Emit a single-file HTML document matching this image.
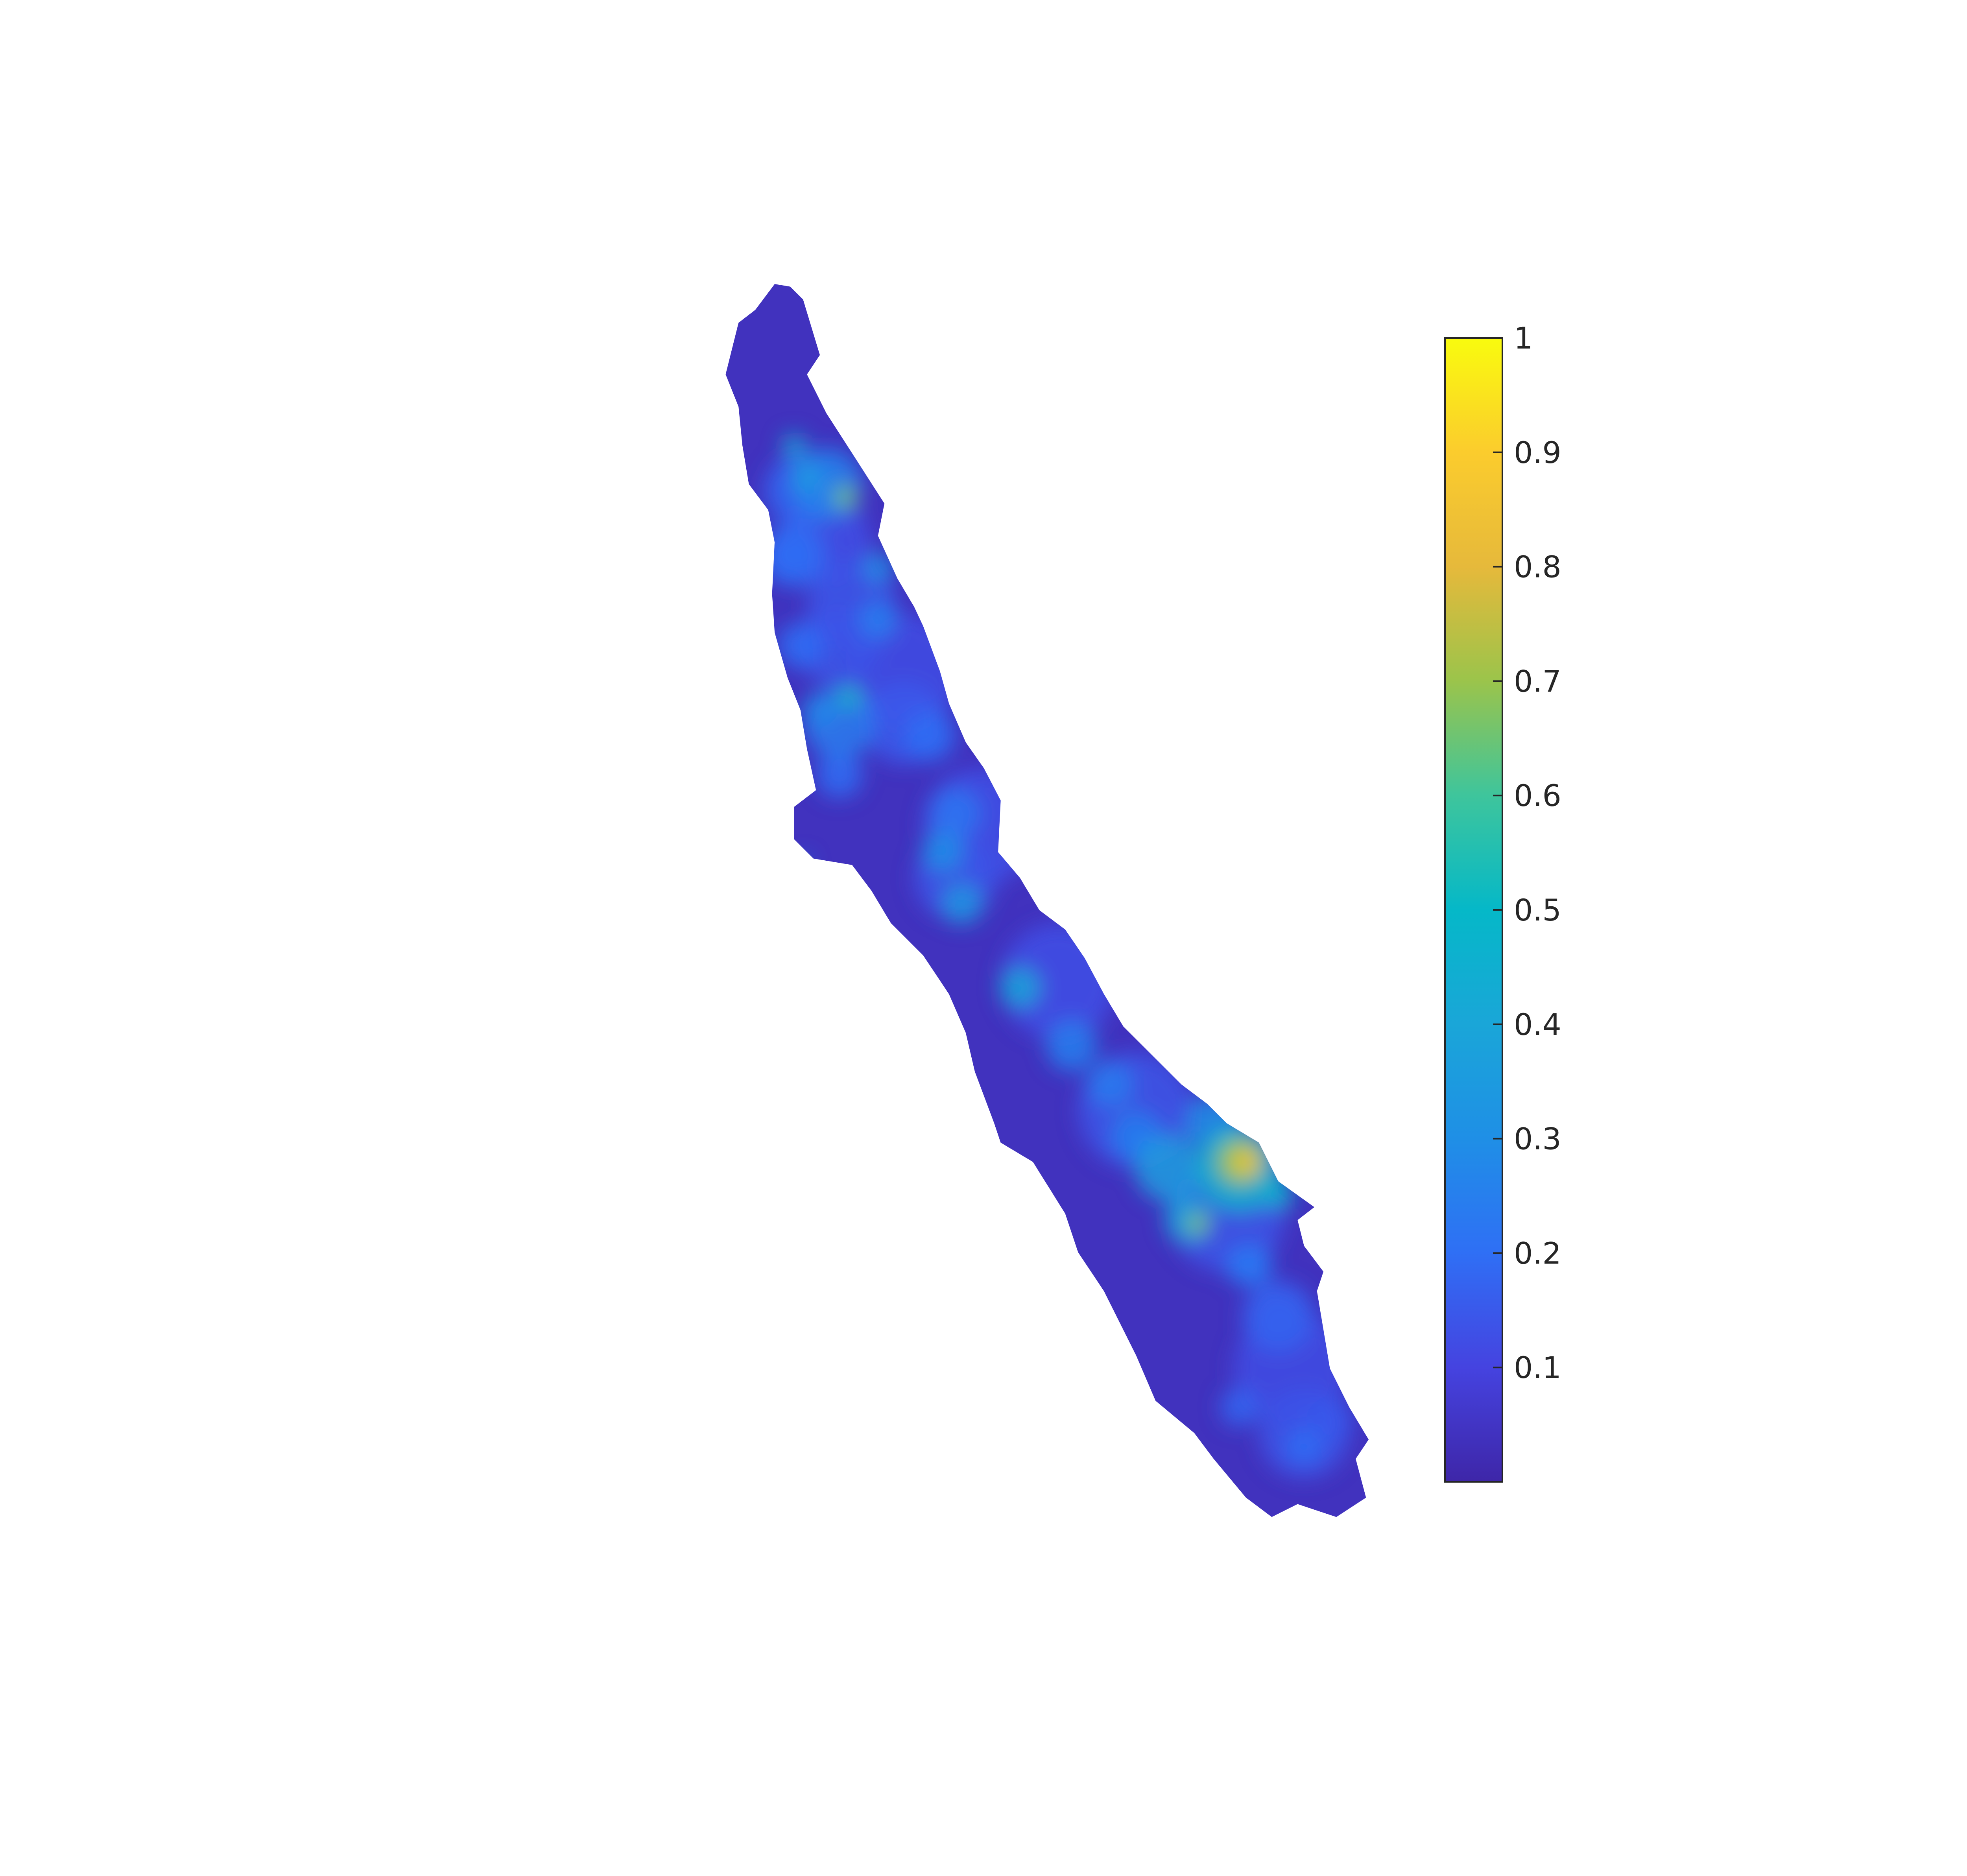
<!DOCTYPE html>
<html><head><meta charset="utf-8">
<style>
html,body{margin:0;padding:0;background:#fff;}
svg{display:block;}
text{font-family:"DejaVu Sans","Liberation Sans",sans-serif;fill:#262626;}
</style></head>
<body>
<svg id="fig" width="5163" height="4769" viewBox="0 0 5163 4769" xmlns="http://www.w3.org/2000/svg">
<defs>
<filter id="blur" x="-50%" y="-50%" width="200%" height="200%"><feGaussianBlur stdDeviation="8"/></filter>
<clipPath id="landclip"><polygon id="clipPoly" points=""/></clipPath>
<linearGradient id="cbgrad" x1="0" y1="1" x2="0" y2="0"></linearGradient>
</defs>
<g id="map" transform="scale(3.282)"></g>
<g id="colorbar"></g>
</svg>
<script>
// colormap (parula-like) stops
const cmapPos = [0,0.1,0.2,0.3,0.4,0.5,0.6,0.7,0.8,0.9,1];
const cmapCol = ["#3e26a8","#4543e0","#2f6ff5","#1f8fe6","#1aa6d8","#05b8c8","#3ec59c","#9bc44b","#e6b93b","#fbcc2d","#f9fb0e"];
// colorbar ticks
const tickValues = [0.1,0.2,0.3,0.4,0.5,0.6,0.7,0.8,0.9,1];
const tickLabels = ["0.1","0.2","0.3","0.4","0.5","0.6","0.7","0.8","0.9","1"];
// region outline (display units)
const outlineX = [600,612,622,635,625,640,685,680,695,708,715,728,735,748,762,775,773,790,805,825,840,855,870,895,915,935,950,975,990,1018,1005,1010,1025,1020,1030,1045,1060,1050,1058,1035,1020,1005,985,965,940,925,895,880,855,835,825,800,775,770,755,748,735,715,690,675,660,630,615,615,632,625,620,610,600,598,600,595,580,575,572,562,572,585];
const outlineY = [220,222,232,275,290,320,390,415,448,470,485,520,545,575,595,620,660,680,705,720,742,770,795,820,840,855,870,885,915,935,945,965,985,1000,1060,1090,1115,1130,1160,1175,1170,1165,1175,1160,1130,1110,1085,1050,1000,970,940,900,885,870,830,800,770,740,715,690,670,665,650,625,612,580,550,525,490,460,420,395,375,345,315,290,250,240];
const baseValue = 0.04;
// hot-spot samples: x, y, value, spread
const blobX = [700,760,820,880,950,1000,1010,640,660,620,615,650,700,740,990,960,905,920,940,990,965,928,655,640,615,625,658,650,635,790,745,730,680,680,720,740,830,860,880,970,990,960,1010,1030,610,620,650,622,960,965];
const blobY = [520,640,760,860,940,1060,1110,420,470,380,430,500,560,680,1020,905,905,945,870,925,980,948,385,375,345,370,540,560,550,765,700,660,440,480,570,630,810,840,880,980,1020,1090,1120,1100,430,500,600,668,900,900];
const blobV = [0.12,0.13,0.13,0.14,0.14,0.12,0.14,0.13,0.14,0.18,0.2,0.14,0.15,0.14,0.17,0.48,0.36,0.4,0.3,0.46,0.22,0.68,0.66,0.26,0.42,0.36,0.52,0.24,0.28,0.4,0.34,0.3,0.3,0.25,0.2,0.22,0.25,0.24,0.25,0.22,0.16,0.18,0.2,0.15,0.18,0.2,0.2,0.28,0.7,0.86];
const blobR = [45,45,45,45,45,45,35,35,35,28,25,32,32,32,28,34,26,18,22,12,16,8,9,28,9,11,9,28,13,16,16,16,12,15,20,20,20,18,20,16,22,15,14,18,18,18,18,5,18,11];

function hex(h){return [1,3,5].map(i=>parseInt(h.substr(i,2),16));}
function cmap(v){v=Math.max(0,Math.min(1,v));for(let i=1;i<cmapPos.length;i++){if(v<=cmapPos[i]){const t=(v-cmapPos[i-1])/(cmapPos[i]-cmapPos[i-1]);const a=hex(cmapCol[i-1]),b=hex(cmapCol[i]);return "rgb("+a.map((c,k)=>Math.round(c+(b[k]-c)*t)).join(",")+")";}}return cmapCol[cmapCol.length-1];}

const NS="http://www.w3.org/2000/svg";
const map=document.getElementById('map');
const pts=outlineX.map((x,i)=>x+","+outlineY[i]).join(" ");
document.getElementById('clipPoly').setAttribute('points',pts);
const land=document.createElementNS(NS,'polygon');
land.setAttribute('points',pts);land.setAttribute('fill',cmap(baseValue));


map.appendChild(land);
const hg=document.createElementNS(NS,'g');
hg.setAttribute('clip-path','url(#landclip)');


map.appendChild(hg);
const inner=document.createElementNS(NS,'g');inner.setAttribute('filter','url(#blur)');hg.appendChild(inner);
const order=blobV.map((v,i)=>i).sort((a,b)=>blobV[a]-blobV[b]);
order.forEach(i=>{
  const c=document.createElementNS(NS,'circle');
  c.setAttribute('cx',blobX[i]);c.setAttribute('cy',blobY[i]);c.setAttribute('r',blobR[i]);
  c.setAttribute('fill',cmap(blobV[i]));c.setAttribute('opacity',0.85);
  
  
  inner.appendChild(c);
});

// colorbar
const cbX=3673,cbW=146,cbTop=859,cbBot=3767,vMin=0,vMax=1;
function yScale(v){return cbBot-(v-vMin)/(vMax-vMin)*(cbBot-cbTop);}
const grad=document.getElementById('cbgrad');
cmapPos.forEach((p,i)=>{const s=document.createElementNS(NS,'stop');s.setAttribute('offset',p);s.setAttribute('stop-color',cmapCol[i]);grad.appendChild(s);});
const cb=document.getElementById('colorbar');
const r=document.createElementNS(NS,'rect');
r.setAttribute('x',cbX);r.setAttribute('y',cbTop);r.setAttribute('width',cbW);r.setAttribute('height',cbBot-cbTop);
r.setAttribute('fill','url(#cbgrad)');r.setAttribute('stroke','#262626');r.setAttribute('stroke-width','4');


cb.appendChild(r);
tickValues.forEach((v,i)=>{
  const y=yScale(v);
  if(v<1){const l=document.createElementNS(NS,'line');
  l.setAttribute('x1',cbX+cbW-24);l.setAttribute('x2',cbX+cbW);l.setAttribute('y1',y);l.setAttribute('y2',y);
  l.setAttribute('stroke','#262626');l.setAttribute('stroke-width','4');
  
  
  cb.appendChild(l);}
  const t=document.createElementNS(NS,'text');
  t.setAttribute('x',3848);t.setAttribute('y',y+27);t.setAttribute('font-size','76');
  t.textContent=tickLabels[i];
  
  
  cb.appendChild(t);
});
</script>
</body></html>
